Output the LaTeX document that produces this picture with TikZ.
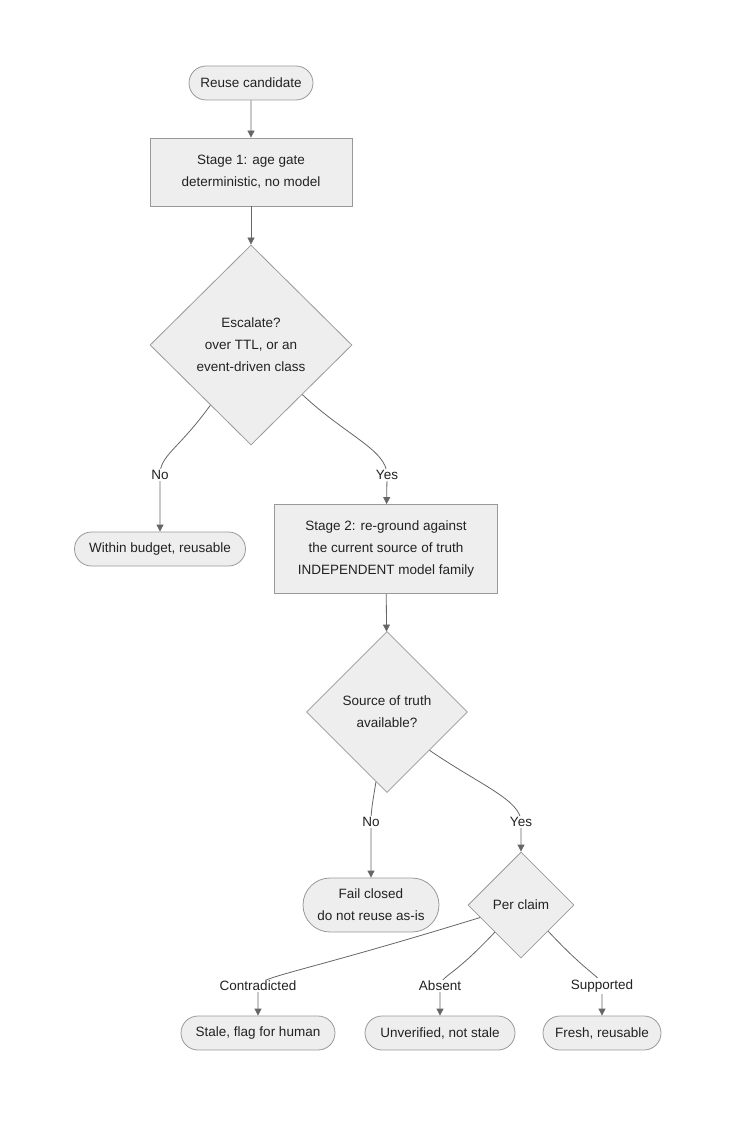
\documentclass[tikz,border=0pt]{standalone}
\usepackage{fontspec}
\setmainfont{Liberation Sans}
\usepackage{tikz}
\usetikzlibrary{arrows.meta}
\usetikzlibrary{shapes}
\usetikzlibrary{positioning}
\definecolor{nodefill}{HTML}{EEEEEE}
\definecolor{nodeline}{HTML}{999999}
\definecolor{edgeline}{HTML}{666666}
\definecolor{txt}{HTML}{222222}
\tikzset{
	base/.style={draw=nodeline, fill=nodefill, line width=0.8pt, text=txt, align=center, inner sep=0pt, font=\fontsize{13.5}{22}\selectfont},
	term/.style={base, rounded rectangle, minimum height=34pt},
	proc/.style={base, rectangle},
	gate/.style={base, diamond, aspect=1},
	edge/.style={draw=edgeline, line width=0.8pt, -{Triangle[length=7pt,width=7pt]}},
	lbl/.style={fill=white, text=txt, inner sep=1.5pt, font=\fontsize{13.5}{16}\selectfont},
}
\begin{document}
\begin{tikzpicture}[x=1pt, y=-1pt]
	\useasboundingbox (0,0) rectangle (736,1126);
	\node[term, minimum width=124pt] (rc) at (251,83) {Reuse candidate};
	\node[proc, minimum width=202pt, minimum height=68pt] (s1) at (251,172) {Stage 1: age gate\\deterministic, no model};
	\node[gate, minimum width=202pt, minimum height=200pt] (esc) at (251,345) {Escalate?\\over TTL, or an\\event-driven class};
	\node[term, minimum width=171pt] (wb) at (160,549) {Within budget, reusable};
	\node[proc, minimum width=223pt, minimum height=89pt] (s2) at (386,549) {Stage 2: re-ground against\\the current source of truth\\INDEPENDENT model family};
	\node[gate, minimum width=161pt, minimum height=161pt] (sot) at (387,712) {Source of truth\\available?};
	\node[term, minimum width=136pt, minimum height=54pt] (fc) at (371,905) {Fail closed\\do not reuse as-is};
	\node[gate, minimum width=106pt, minimum height=106pt] (pc) at (521,905) {Per claim};
	\node[term, minimum width=154pt] (st) at (258,1033) {Stale, flag for human};
	\node[term, minimum width=150pt] (un) at (440,1033) {Unverified, not stale};
	\node[term, minimum width=118pt] (fr) at (602,1033) {Fresh, reusable};

	\coordinate (noA) at (160,475);
	\coordinate (yesA) at (387,475);
	\coordinate (noB) at (371,822);
	\coordinate (yesB) at (521,822);
	\coordinate (con) at (258,986);
	\coordinate (abs) at (440,986);
	\coordinate (sup) at (602,986);

	\draw[edge] (rc) -- (s1);
	\draw[edge] (s1) -- (esc);
	\draw[edge] (esc.236) .. controls (178,450) and (160,455) .. (noA) -- (wb);
	\draw[edge] (esc.316) .. controls (345,435) and (387,450) .. (yesA) -- (s2);
	\draw[edge] (s2) -- (sot);
	\draw[edge] (sot.261) .. controls (373,800) and (371,810) .. (noB) -- (fc);
	\draw[edge] (sot.318) .. controls (480,785) and (521,800) .. (yesB) -- (pc);
	\draw[edge] (pc.197) .. controls (300,973) and (262,976) .. (con) -- (st);
	\draw[edge] (pc.226) .. controls (452,978) and (442,975) .. (abs) -- (un);
	\draw[edge] (pc.316) .. controls (592,978) and (600,975) .. (sup) -- (fr);

	\node[lbl] (lNoA) at (noA) {No};
	\node[lbl] (lYesA) at (yesA) {Yes};
	\node[lbl] (lNoB) at (noB) {No};
	\node[lbl] (lYesB) at (yesB) {Yes};
	\node[lbl] (lCon) at (con) {Contradicted};
	\node[lbl] (lAbs) at (abs) {Absent};
	\node[lbl] (lSup) at (sup) {Supported};
\end{tikzpicture}
\end{document}
